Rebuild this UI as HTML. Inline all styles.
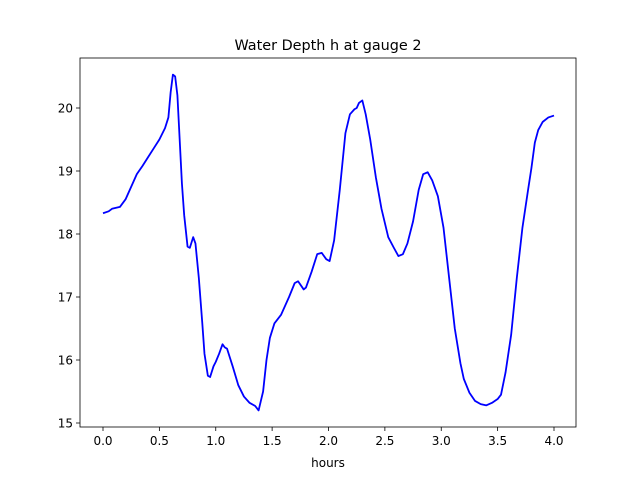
<!DOCTYPE html>
<html><head><meta charset="utf-8"><style>
body{margin:0;background:#fff}
svg text{font-family:"DejaVu Sans","Liberation Sans",sans-serif;fill:#000}
</style></head><body>
<svg id="chart" width="640" height="480">
<rect x="0" y="0" width="640" height="480" fill="#fff"/>
<text x="328" y="50" font-size="14.4" text-anchor="middle">Water Depth h at gauge 2</text>
<g id="axes"></g>
<text x="328" y="467" font-size="12" text-anchor="middle">hours</text>
</svg>
<script>
const hours=[0,0.05,0.08,0.15,0.2,0.25,0.3,0.35,0.4,0.45,0.5,0.55,0.58,0.6,0.62,0.64,0.66,0.68,0.7,0.72,0.75,0.77,0.8,0.82,0.85,0.88,0.9,0.93,0.95,0.98,1.0,1.03,1.06,1.08,1.1,1.15,1.2,1.25,1.3,1.35,1.38,1.4,1.42,1.45,1.48,1.52,1.58,1.65,1.7,1.73,1.78,1.8,1.85,1.9,1.94,1.98,2.01,2.05,2.1,2.15,2.19,2.23,2.25,2.27,2.3,2.33,2.37,2.42,2.47,2.53,2.58,2.62,2.66,2.7,2.75,2.8,2.84,2.88,2.92,2.97,3.02,3.07,3.12,3.17,3.2,3.25,3.3,3.35,3.4,3.45,3.5,3.53,3.57,3.62,3.67,3.72,3.77,3.8,3.83,3.86,3.9,3.95,4.0];
const depth=[18.33,18.36,18.4,18.43,18.55,18.75,18.95,19.08,19.22,19.36,19.5,19.68,19.85,20.25,20.53,20.5,20.2,19.5,18.8,18.3,17.8,17.78,17.95,17.85,17.3,16.6,16.1,15.75,15.73,15.9,15.97,16.1,16.25,16.2,16.18,15.9,15.6,15.42,15.32,15.27,15.2,15.35,15.5,16.0,16.35,16.58,16.72,17.0,17.22,17.25,17.12,17.15,17.4,17.68,17.7,17.6,17.57,17.9,18.7,19.6,19.9,19.98,20.0,20.08,20.12,19.9,19.5,18.9,18.4,17.95,17.78,17.65,17.68,17.85,18.2,18.7,18.95,18.98,18.85,18.6,18.1,17.3,16.5,15.95,15.7,15.48,15.35,15.3,15.28,15.32,15.38,15.45,15.8,16.4,17.3,18.1,18.7,19.05,19.45,19.65,19.78,19.85,19.88];
const xTicks=[0,0.5,1,1.5,2,2.5,3,3.5,4];
const xTickLabels=["0.0","0.5","1.0","1.5","2.0","2.5","3.0","3.5","4.0"];
const yTicks=[15,16,17,18,19,20];
const yTickLabels=["15","16","17","18","19","20"];
const L=80,R=576,T=58,B=427;
const xs=v=>103+v*112.75;
const ys=v=>423-(v-15)*63;
const NS="http://www.w3.org/2000/svg";
const g=document.getElementById('axes');
function mk(t,a){const e=document.createElementNS(NS,t);for(const k in a)e.setAttribute(k,a[k]);g.appendChild(e);return e;}
xTicks.forEach((t,i)=>{
 const l=mk('line',{x1:xs(t),x2:xs(t),y1:B,y2:B+4,stroke:'#000','stroke-width':0.8});
 
 
 const tx=mk('text',{x:xs(t),y:B+18,'font-size':12,'text-anchor':'middle'});
 tx.textContent=xTickLabels[i];
 
 
});
yTicks.forEach((t,i)=>{
 const l=mk('line',{x1:L-4,x2:L,y1:ys(t),y2:ys(t),stroke:'#000','stroke-width':0.8});
 
 
 const tx=mk('text',{x:L-7,y:ys(t)+4.5,'font-size':12,'text-anchor':'end'});
 tx.textContent=yTickLabels[i];
 
 
});
const p=mk('polyline',{points:hours.map((h,i)=>xs(h)+','+ys(depth[i])).join(' '),fill:'none',stroke:'#0000ff','stroke-width':1.8,'stroke-linejoin':'round'});


const f=mk('rect',{x:L,y:T,width:R-L,height:B-T,fill:'none',stroke:'#000','stroke-width':0.8});


</script>
</body></html>
